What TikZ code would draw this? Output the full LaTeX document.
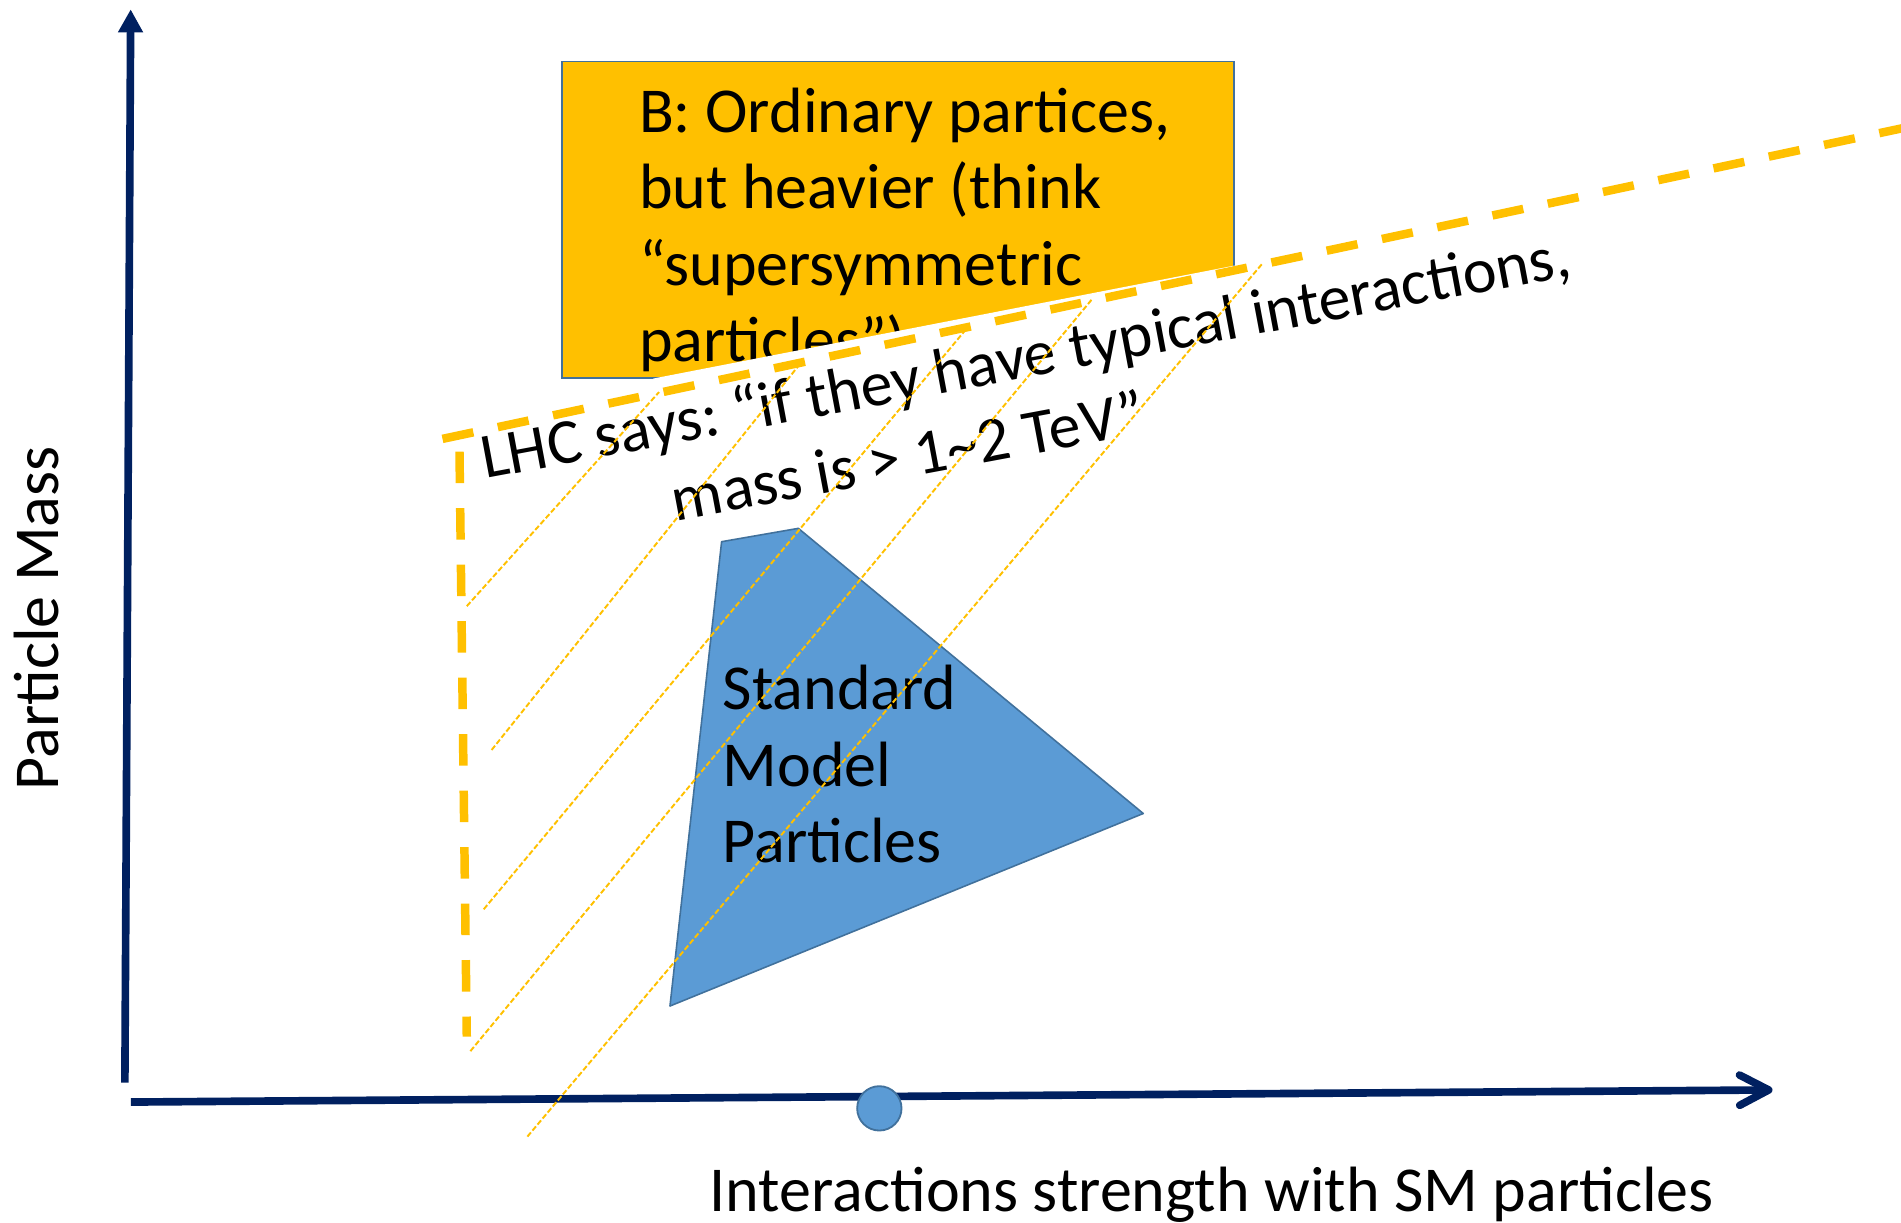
\documentclass[tikz,border=0pt]{standalone}
\usepackage{fontspec}
\setmainfont{Carlito}
\frenchspacing
\usetikzlibrary{arrows.meta}
\definecolor{navy}{HTML}{002060}
\definecolor{amber}{HTML}{FFC000}
\definecolor{smblue}{HTML}{5B9BD5}
\definecolor{edgeblue}{HTML}{41719C}
\begin{document}
\begin{tikzpicture}[x=1pt,y=-1pt,
  axis/.style={draw=navy, line width=6.3pt},
  bigtext/.style={font=\fontsize{52.8}{63}\selectfont, inner sep=0pt},
  limit/.style={draw=amber, line width=7pt, dash pattern=on 26pt off 20.6pt},
  hatch/.style={draw=amber, line width=1.6pt, dash pattern=on 4.5pt off 2pt},
]
\useasboundingbox (0,0) rectangle (1568,1008);

% axes
\coordinate (yfoot) at (103,893);
\coordinate (ytop) at (107.8,7.7);
\draw[axis, -{Triangle[length=19pt,width=19.5pt]}] (yfoot) -- (ytop);
\coordinate (xfoot) at (108,909);
\coordinate (xtip) at (1462,899);
\draw[axis, -{Straight Barb[length=24pt,width=25pt,line cap=round,line join=round]}] (xfoot) -- (xtip);

% heavy-particle box
\node[draw=edgeblue, fill=amber, line width=1.5pt, minimum width=554pt,
      minimum height=261pt, inner sep=0pt, anchor=north west] (boxB) at (463,50) {};
\node[bigtext, anchor=north west, align=left] (boxtext) at (527,72.5)
  {B: Ordinary partices,\\but heavier (think\\“supersymmetric\\particles”)};

% white backing of the LHC statement
\coordinate (wa) at (539,312.2);
\coordinate (wb) at (1018.5,219);
\coordinate (wc) at (1018.5,322);
\coordinate (wd) at (539,322);
\fill[white] (wa) -- (wb) -- (wc) -- (wd) -- cycle;

% Standard Model region
\coordinate (sm1) at (595.2,446.8);
\coordinate (sm2) at (658.5,435.8);
\coordinate (sm3) at (943,671);
\coordinate (sm4) at (552.6,829.8);
\filldraw[fill=smblue, draw=edgeblue, line width=1.3pt, line join=round]
  (sm1) -- (sm2) -- (sm3) -- (sm4) -- cycle;
\node[bigtext, anchor=north west, align=left] (smtext) at (596,548.5)
  {Standard\\Model\\Particles};

% point on the interaction axis
\node[circle, fill=smblue, draw=edgeblue, line width=1.5pt, minimum size=36.6pt,
      inner sep=0pt] (origin) at (725.3,914.2) {};

% LHC exclusion boundary
\coordinate (lim1) at (365,362);
\coordinate (lim2) at (1600,99.2);
\draw[limit] (lim1) -- (lim2);
\coordinate (lim3) at (379,372.5);
\coordinate (lim4) at (385,855);
\draw[limit] (lim3) -- (lim4);

% LHC statement
\node[bigtext, rotate=10.6, anchor=north west, align=left] (lhc) at (393.2,357.5)
  {LHC says: “if they have typical interactions,\\\hspace*{148pt}mass is > 1\textasciitilde 2 TeV”};

% hatching of the excluded region
\coordinate (ha1) at (385,500);     \coordinate (ha2) at (543.6,323.4);
\coordinate (hb1) at (405.5,618.6); \coordinate (hb2) at (660.6,299.2);
\coordinate (hc1) at (399,750);     \coordinate (hc2) at (798.2,269.9);
\coordinate (hd1) at (388,867);     \coordinate (hd2) at (901.2,246.2);
\coordinate (he1) at (435,937.5);   \coordinate (he2) at (1041.9,216.6);
\draw[hatch] (ha1) -- (ha2);
\draw[hatch] (hb1) -- (hb2);
\draw[hatch] (hc1) -- (hc2);
\draw[hatch] (hd1) -- (hd2);
\draw[hatch] (he1) -- (he2);

% axis labels
\node[bigtext, anchor=base] (xlabel) at (999.5,999) {Interactions strength with SM particles};
\node[bigtext, rotate=90, anchor=base] (ylabel) at (48,510) {Particle Mass};
\end{tikzpicture}
\end{document}
